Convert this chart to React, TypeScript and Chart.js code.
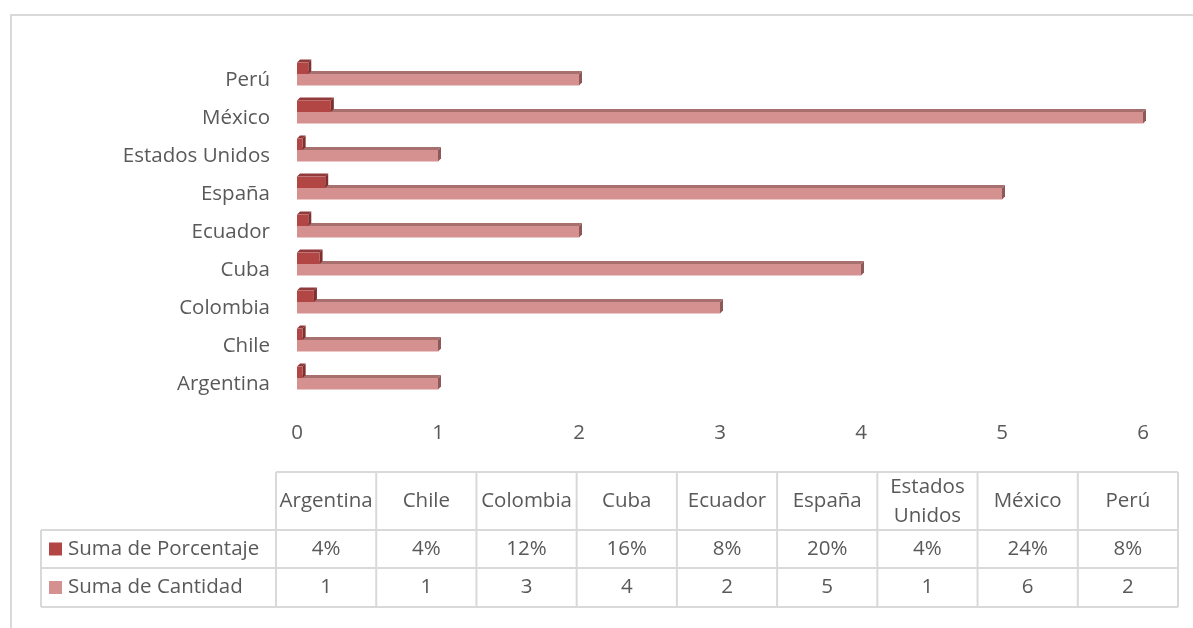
import React, { useEffect, useRef } from "react";
import { Chart, registerables } from "chart.js";

Chart.register(...registerables);

const countries = ["Argentina", "Chile", "Colombia", "Cuba", "Ecuador", "España", "Estados Unidos", "México", "Perú"];
const porcentaje = [0.04, 0.04, 0.12, 0.16, 0.08, 0.2, 0.04, 0.24, 0.08];
const cantidad = [1, 1, 3, 4, 2, 5, 1, 6, 2];
const seriesNames = ["Suma de Porcentaje", "Suma de Cantidad"];
const xMin = 0;
const xMax = 6;

const TEXT = "#595959";
const GRID = "#D9D9D9";
const FONT_FAMILY = "'Open Sans', 'Noto Sans', sans-serif";
const FONT_SIZE = 20.5;

const DARK = { front: "#B14644", top: "#92393A", side: "#7E3030" };
const LIGHT = { front: "#D4918F", top: "#A76F6E", side: "#8E5A59" };
const PALETTE = [DARK, LIGHT];

const threeD = {
  id: "threeD",
  beforeDatasetsDraw(chart: any) {
    const ctx = chart.ctx;
    const d = 3;
    ctx.save();
    for (let di = chart.data.datasets.length - 1; di >= 0; di--) {
      const meta = chart.getDatasetMeta(di);
      const pal = PALETTE[di];
      meta.data.forEach((el: any) => {
        const { x, y, base, height } = el.getProps(["x", "y", "base", "height"], true);
        const top = y - height / 2;
        const bottom = y + height / 2;
        ctx.fillStyle = pal.top;
        ctx.beginPath();
        ctx.moveTo(base, top);
        ctx.lineTo(x, top);
        ctx.lineTo(x + d, top - d);
        ctx.lineTo(base + d, top - d);
        ctx.closePath();
        ctx.fill();
        ctx.fillStyle = pal.side;
        ctx.beginPath();
        ctx.moveTo(x, top);
        ctx.lineTo(x + d, top - d);
        ctx.lineTo(x + d, bottom - d);
        ctx.lineTo(x, bottom);
        ctx.closePath();
        ctx.fill();
      });
    }
    ctx.restore();
  },
};

const dataTable = {
  id: "dataTable",
  afterDraw(chart: any) {
    const ctx = chart.ctx;
    const labelLeft = 41;
    const colStart = 276;
    const colEnd = 1178;
    const n = countries.length;
    const colW = (colEnd - colStart) / n;
    const headTop = 472;
    const r1 = 530;
    const r2 = 568;
    const bottom = 607;
    ctx.save();
    // outer chart border
    ctx.strokeStyle = GRID;
    ctx.lineWidth = 2;
    ctx.beginPath();
    ctx.moveTo(11, 640);
    ctx.lineTo(11, 15);
    ctx.lineTo(1200, 15);
    ctx.stroke();

    ctx.lineWidth = 2;
    ctx.strokeStyle = GRID;
    ctx.beginPath();
    ctx.moveTo(colStart, headTop);
    ctx.lineTo(colEnd, headTop);
    [r1, r2, bottom].forEach((yy) => {
      ctx.moveTo(labelLeft, yy);
      ctx.lineTo(colEnd, yy);
    });
    ctx.moveTo(labelLeft, r1);
    ctx.lineTo(labelLeft, bottom);
    for (let i = 0; i <= n; i++) {
      const xx = colStart + i * colW;
      ctx.moveTo(xx, headTop);
      ctx.lineTo(xx, bottom);
    }
    ctx.stroke();

    ctx.font = `${FONT_SIZE}px ${FONT_FAMILY}`;
    ctx.fillStyle = TEXT;
    ctx.textAlign = "center";
    ctx.textBaseline = "middle";
    countries.forEach((c, i) => {
      const cx = colStart + (i + 0.5) * colW;
      const w = ctx.measureText(c).width;
      if (w > colW - 4 && c.includes(" ")) {
        const parts = c.split(" ");
        ctx.fillText(parts[0], cx, (headTop + r1) / 2 - 14);
        ctx.fillText(parts.slice(1).join(" "), cx, (headTop + r1) / 2 + 15);
      } else {
        ctx.fillText(c, cx, (headTop + r1) / 2);
      }
      ctx.fillText(Math.round(porcentaje[i] * 100) + "%", cx, (r1 + r2) / 2);
      ctx.fillText(String(cantidad[i]), cx, (r2 + bottom) / 2);
    });
    const rows = [
      { y: (r1 + r2) / 2, pal: DARK, name: seriesNames[0] },
      { y: (r2 + bottom) / 2, pal: LIGHT, name: seriesNames[1] },
    ];
    rows.forEach((r) => {
      ctx.fillStyle = r.pal.front;
      ctx.fillRect(49, r.y - 6.5, 13, 13);
      ctx.fillStyle = TEXT;
      ctx.textAlign = "left";
      ctx.fillText(r.name, 68, r.y);
    });
    ctx.restore();
  },
};

export default function App() {
  const ref = useRef<HTMLCanvasElement | null>(null);
  useEffect(() => {
    if (!ref.current) return;
    const labels = [...countries].reverse();
    const chart = new Chart(ref.current, {
      type: "bar",
      data: {
        labels,
        datasets: [
          { label: seriesNames[0], data: [...porcentaje].reverse(), backgroundColor: DARK.front },
          { label: seriesNames[1], data: [...cantidad].reverse(), backgroundColor: LIGHT.front },
        ],
      },
      options: {
        indexAxis: "y",
        responsive: false,
        maintainAspectRatio: false,
        animation: false,
        layout: { padding: { top: 55, right: 50, left: 0, bottom: 181 } },
        datasets: { bar: { categoryPercentage: 0.6, barPercentage: 1 } },
        plugins: { legend: { display: false }, tooltip: { enabled: false } },
        scales: {
          x: {
            min: xMin,
            max: xMax,
            ticks: { stepSize: 1, padding: 24, color: TEXT, font: { family: FONT_FAMILY, size: FONT_SIZE } },
            grid: { display: false, drawTicks: false },
            border: { display: false },
            afterFit: (s: any) => {
              s.height = 50;
            },
          },
          y: {
            ticks: { padding: 27, labelOffset: 6.5, color: TEXT, font: { family: FONT_FAMILY, size: FONT_SIZE } },
            grid: { display: false, drawTicks: false },
            border: { display: false },
            afterFit: (s: any) => {
              s.width = 297;
            },
          },
        },
      },
      plugins: [threeD, dataTable],
    } as any);
    return () => chart.destroy();
  }, []);
  return (
    <div style={{ position: "fixed", left: 0, top: 0, width: 1193, height: 628, background: "#fff" }}>
      <canvas ref={ref} width={1193} height={628} style={{ display: "block", width: 1193, height: 628 }} />
    </div>
  );
}
